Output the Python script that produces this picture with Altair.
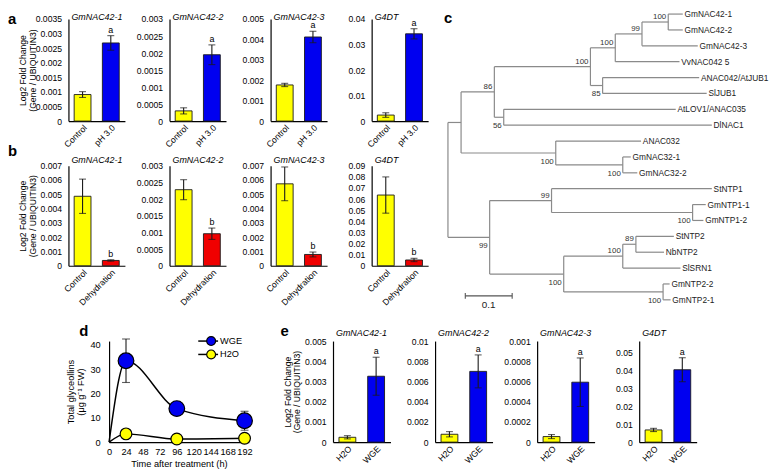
import altair as alt
import numpy as np
import pandas as pd

FONT = "Liberation Sans"
YELLOW = "#ffff00"
BLUE = "#0000f0"
RED = "#f00000"
INK = "#1a1a1a"
TREE_GREY = "#8a8a8a"

# ---------------- panel a : pH 3.0 ----------------
a_genes = ["GmNAC42-1", "GmNAC42-2", "GmNAC42-3", "G4DT"]
a_groups = ["Control", "pH 3.0"]
a_means = [[0.00091, 0.00268], [0.00030, 0.00195], [0.00177, 0.00412], [0.00236, 0.0342]]
a_errs = [[0.00010, 0.00025], [0.00009, 0.00029], [0.00008, 0.00028], [0.0009, 0.0020]]
a_sig = ["", "a"]
a_ymax = [0.0035, 0.003, 0.005, 0.04]
a_step = [0.0005, 0.0005, 0.001, 0.01]

# ---------------- panel b : dehydration ----------------
b_genes = ["GmNAC42-1", "GmNAC42-2", "GmNAC42-3", "G4DT"]
b_groups = ["Control", "Dehydration"]
b_means = [[0.00486, 0.00037], [0.00228, 0.00096], [0.00573, 0.00079], [0.0636, 0.0052]]
b_errs = [[0.00120, 0.00005], [0.00030, 0.00017], [0.00118, 0.00017], [0.0163, 0.0015]]
b_sig = ["", "b"]
b_ymax = [0.007, 0.003, 0.007, 0.09]
b_step = [0.001, 0.0005, 0.001, 0.01]

# ---------------- panel e : WGE ----------------
e_genes = ["GmNAC42-1", "GmNAC42-2", "GmNAC42-3", "G4DT"]
e_groups = ["H2O", "WGE"]
e_means = [[0.00024, 0.00326], [0.00078, 0.0070], [0.000055, 0.000593], [0.0068, 0.0404]]
e_errs = [[0.00008, 0.00094], [0.00026, 0.00163], [0.00002, 0.00024], [0.0009, 0.0067]]
e_sig = ["", "a"]
e_ymax = [0.005, 0.01, 0.001, 0.0564]
e_step = [0.001, 0.002, 0.0002, 0.01]

# ---------------- panel d : glyceollins ----------------
time_h = [0, 24, 96, 192]
series_names = ["WGE", "H2O"]
series_colors = [BLUE, YELLOW]
wge_mean = [0.0, 33.5, 13.8, 8.8]
wge_err = [0.0, 8.95, 2.7, 3.9]
h2o_mean = [0.0, 3.4, 1.3, 1.6]
h2o_err = [0.0, 0.5, 0.35, 0.4]
time_ticks = [0, 24, 48, 72, 96, 120, 144, 168, 192]

# ---------------- panel c : phylogenetic tree ----------------
tree_ids = ["root", "n1", "n86", "n100a", "n100b", "n99a", "n100c",
            "GmNAC42-1", "GmNAC42-2", "GmNAC42-3", "VvNAC042 5",
            "n85", "ANAC042/AtJUB1", "SlJUB1",
            "n56", "AtLOV1/ANAC035", "DlNAC1",
            "n100d", "ANAC032", "n100e", "GmNAC32-1", "GmNAC32-2",
            "n99b", "n99c", "StNTP1", "n100f", "GmNTP1-1", "GmNTP1-2",
            "n100g", "n100h", "n89", "StNTP2", "NbNTP2", "SlSRN1",
            "n100i", "GmNTP2-2", "GmNTP2-1"]
tree_parent = ["", "root", "n1", "n86", "n100a", "n100b", "n99a",
               "n100c", "n100c", "n99a", "n100b",
               "n100a", "n85", "n85",
               "n86", "n56", "n56",
               "n1", "n100d", "n100d", "n100e", "n100e",
               "root", "n99b", "n99c", "n99c", "n100f", "n100f",
               "n99b", "n100g", "n100h", "n89", "n89", "n100h",
               "n100g", "n100i", "n100i"]
tree_dist = [0.0, 0.028, 0.099, 0.304, 0.357, 0.414, 0.470,
             0.501, 0.501, 0.533, 0.494,
             0.330, 0.536, 0.552,
             0.119, 0.486, 0.563,
             0.230, 0.412, 0.373, 0.390, 0.404,
             0.089, 0.221, 0.563, 0.522, 0.550, 0.545,
             0.247, 0.373, 0.401, 0.482, 0.461, 0.496,
             0.459, 0.473, 0.475]
tree_support = ["", "", "86", "100", "100", "99", "100",
                "", "", "", "",
                "85", "", "",
                "56", "", "",
                "100", "", "100", "", "",
                "99", "99", "", "100", "", "",
                "100", "100", "89", "", "", "",
                "100", "", ""]
scale_bar_start = 0.037
scale_bar_len = 0.1
scale_bar_row = 17.75
scale_bar_label = "0.1"


def letter(ch, x, y):
    return alt.Chart(pd.DataFrame({"t": [ch]})).mark_text(
        fontSize=15, fontWeight="bold", align="left", baseline="alphabetic", color="black", font=FONT
    ).encode(text="t:N", x=alt.value(x), y=alt.value(y))


def gene_title(name, x, y):
    return alt.Chart(pd.DataFrame({"t": [name]})).mark_text(
        fontSize=9, fontStyle="italic", align="left", baseline="alphabetic", color="black", font=FONT
    ).encode(text="t:N", x=alt.value(x), y=alt.value(y))


def bar_panel(gene, groups, means, errs, sig, colors, ymax, step, width, height,
              title_y, first, extras):
    df = pd.DataFrame({"group": groups, "mean": means, "err": errs, "sig": sig, "color": colors})
    df["lo"] = df["mean"] - df["err"]
    df["hi"] = df["mean"] + df["err"]
    n = int(np.floor(ymax / step + 1e-6))
    tick_vals = [round(k * step, 8) for k in range(n + 1)]
    axis_kw = dict(values=tick_vals, labelExpr="format(datum.value, '~g')", labelPadding=7)
    if first:
        axis_kw.update(titleX=-43, titleY=height / 2, titleBaseline="alphabetic",
                       titleAlign="center", titleLineHeight=9.5)
        ytitle = ["Log2 Fold Change", "(Gene / UBIQUITIN3)"]
    else:
        ytitle = None
    yaxis = alt.Axis(**axis_kw)
    yscale = alt.Scale(domain=[0, ymax], nice=False, zero=True)

    def Y(f):
        return alt.Y(f"{f}:Q", scale=yscale, axis=yaxis, title=ytitle)

    X = alt.X("group:N", sort=groups, title=None,
              scale=alt.Scale(paddingInner=0, paddingOuter=0),
              axis=alt.Axis(labelAngle=315, labelPadding=2))
    base = alt.Chart(df)
    layers = [
        base.mark_bar(size=17, stroke=INK, strokeWidth=0.9).encode(
            x=X, y=Y("mean"), fill=alt.Fill("color:N", scale=None)),
        base.mark_rule(color=INK, strokeWidth=1.1).encode(x=X, y=Y("lo"), y2="hi:Q"),
        base.mark_tick(color=INK, size=7, thickness=1.1, orient="horizontal").encode(x=X, y=Y("lo")),
        base.mark_tick(color=INK, size=7, thickness=1.1, orient="horizontal").encode(x=X, y=Y("hi")),
        base.mark_text(fontSize=9, baseline="alphabetic", dy=-3, color="black").encode(
            x=X, y=Y("hi"), text="sig:N"),
        gene_title(gene, 3, title_y),
    ] + list(extras)
    return alt.layer(*layers).properties(width=width, height=height)


# ---------- rows a and b ----------
a_panels = []
for i, g in enumerate(a_genes):
    extras = [letter("a", -61, 5)] if i == 0 else []
    a_panels.append(bar_panel(g, a_groups, a_means[i], a_errs[i], a_sig, [YELLOW, BLUE],
                              a_ymax[i], a_step[i], 57, 103, 1, i == 0, extras))
a_row = alt.hconcat(*a_panels, spacing=45, bounds="flush")

b_panels = []
for i, g in enumerate(b_genes):
    extras = [letter("b", -61, -10)] if i == 0 else []
    b_panels.append(bar_panel(g, b_groups, b_means[i], b_errs[i], b_sig, [YELLOW, RED],
                              b_ymax[i], b_step[i], 57, 101, -3, i == 0, extras))
b_row = alt.hconcat(*b_panels, spacing=45, bounds="flush")

ab = alt.vconcat(a_row, b_row, spacing=148, bounds="flush")

# ---------- tree ----------
children = {n: [] for n in tree_ids}
for n, p in zip(tree_ids, tree_parent):
    if p:
        children[p].append(n)
dist = dict(zip(tree_ids, tree_dist))
parent = dict(zip(tree_ids, tree_parent))
ypos = {}
leaf_i = 0
for n in tree_ids:
    if not children[n]:
        ypos[n] = leaf_i
        leaf_i += 1
for n in reversed(tree_ids):
    if children[n]:
        ys = [ypos[c] for c in children[n]]
        ypos[n] = (min(ys) + max(ys)) / 2

seg_rows = []
for n in tree_ids:
    if parent[n]:
        seg_rows.append({"x": dist[parent[n]], "x2": dist[n], "y": ypos[n], "y2": ypos[n]})
    if children[n]:
        ys = [ypos[c] for c in children[n]]
        seg_rows.append({"x": dist[n], "x2": dist[n], "y": min(ys), "y2": max(ys)})
seg_df = pd.DataFrame(seg_rows)

leaf_df = pd.DataFrame([{"x": dist[n], "y": ypos[n], "label": n} for n in tree_ids if not children[n]])
sup_rows = []
for n, s in zip(tree_ids, tree_support):
    if s:
        pos = "above" if children[parent[n]][0] == n else "below"
        sup_rows.append({"x": dist[n], "y": ypos[n], "label": s, "pos": pos})
sup_df = pd.DataFrame(sup_rows)

bar_df = pd.DataFrame({"x": [scale_bar_start], "x2": [scale_bar_start + scale_bar_len],
                       "y": [scale_bar_row], "y2": [scale_bar_row],
                       "label": [scale_bar_label], "xm": [scale_bar_start + scale_bar_len / 2]})
bar_end_df = pd.DataFrame({"x": [scale_bar_start, scale_bar_start + scale_bar_len],
                           "y": [scale_bar_row - 0.18] * 2, "y2": [scale_bar_row + 0.18] * 2})

tx = alt.X("x:Q", scale=alt.Scale(domain=[0, 0.6], nice=False, zero=False), axis=None)
ty = alt.Y("y:Q", scale=alt.Scale(domain=[0.312, 18.5], reverse=True, nice=False, zero=False), axis=None)

tree = alt.layer(
    alt.Chart(seg_df).mark_rule(color=TREE_GREY, strokeWidth=1.2).encode(x=tx, x2="x2:Q", y=ty, y2="y2:Q"),
    alt.Chart(leaf_df).mark_text(align="left", baseline="middle", dx=1.8, fontSize=8.4, color="#222").encode(
        x=tx, y=ty, text="label:N"),
    alt.Chart(sup_df).transform_filter("datum.pos == 'above'").mark_text(
        align="right", baseline="alphabetic", dx=-2, dy=-3, fontSize=8, color="#333").encode(
        x=tx, y=ty, text="label:N"),
    alt.Chart(sup_df).transform_filter("datum.pos == 'below'").mark_text(
        align="right", baseline="alphabetic", dx=-2, dy=11, fontSize=8, color="#333").encode(
        x=tx, y=ty, text="label:N"),
    alt.Chart(bar_df).mark_rule(color="#555", strokeWidth=1.1).encode(x=tx, x2="x2:Q", y=ty),
    alt.Chart(bar_end_df).mark_rule(color="#555", strokeWidth=1.1).encode(x=tx, y=ty, y2="y2:Q"),
    alt.Chart(bar_df).mark_text(baseline="alphabetic", dy=12, fontSize=10, color="#222").encode(
        x=alt.X("xm:Q"), y=ty, text="label:N"),
    letter("c", -4, 4),
).properties(width=283.8, height=291.4)

top = alt.hconcat(ab, tree, spacing=383, bounds="flush")

# ---------- panel d ----------
d_rows = []
for s, m, e in [("WGE", wge_mean, wge_err), ("H2O", h2o_mean, h2o_err)]:
    for t, mv, ev in zip(time_h, m, e):
        d_rows.append({"series": s, "time": t, "mean": mv, "lo": mv - ev, "hi": mv + ev})
d_df = pd.DataFrame(d_rows)
d_pts = d_df[d_df["time"] > 0]

DX = alt.X("time:Q", scale=alt.Scale(domain=[0, 198], nice=False),
           axis=alt.Axis(values=time_ticks, labelFontSize=9.3, titleFontSize=9.3, labelPadding=5,
                         titlePadding=3, labelFlush=False, labelOverlap=False),
           title="Time after treatment (h)")
d_axis = alt.Axis(values=[0, 10, 20, 30, 40], labelFontSize=9.3, titleFontSize=9.3, labelPadding=9,
                  titleX=-36, titleY=51, titleBaseline="alphabetic", titleAlign="center",
                  titleLineHeight=10.5)
d_title = ["Total glyceollins", "(\u03bcg g\u207b\u00b9 FW)"]
d_scale = alt.Scale(domain=[0, 41.6], nice=False)


def DY(f):
    return alt.Y(f"{f}:Q", scale=d_scale, axis=d_axis, title=d_title)


color_scale = alt.Scale(domain=series_names, range=series_colors)

legend_layers = []
for i, (s, c) in enumerate(zip(series_names, series_colors)):
    ly = 0 + 13.5 * i
    ldf = pd.DataFrame({"series": [s]})
    legend_layers += [
        alt.Chart(ldf).mark_rule(color="black", strokeWidth=1.5).encode(
            x=alt.value(90), x2=alt.value(110), y=alt.value(ly)),
        alt.Chart(ldf).mark_point(filled=True, opacity=1, stroke="black", strokeWidth=1.2,
                                  size=80, shape="circle").encode(
            x=alt.value(103), y=alt.value(ly),
            fill=alt.Fill("series:N", scale=color_scale, legend=None)),
        alt.Chart(ldf).mark_text(align="left", baseline="middle", fontSize=9.3, color="black").encode(
            x=alt.value(112), y=alt.value(ly), text="series:N"),
    ]

d_chart = alt.layer(
    alt.Chart(d_df).mark_line(interpolate="monotone", color="black", strokeWidth=1.5).encode(
        x=DX, y=DY("mean"), detail="series:N"),
    alt.Chart(d_pts).mark_rule(color=INK, strokeWidth=1.1).encode(x=DX, y=DY("lo"), y2="hi:Q"),
    alt.Chart(d_pts).mark_tick(color=INK, size=8, thickness=1.1, orient="horizontal").encode(x=DX, y=DY("lo")),
    alt.Chart(d_pts).mark_tick(color=INK, size=8, thickness=1.1, orient="horizontal").encode(x=DX, y=DY("hi")),
    alt.Chart(d_pts).mark_point(filled=True, opacity=1, stroke="black", strokeWidth=1.2, shape="circle").encode(
        x=DX, y=DY("mean"),
        fill=alt.Fill("series:N", scale=color_scale, legend=None),
        size=alt.Size("series:N", scale=alt.Scale(domain=series_names, range=[250, 140]), legend=None)),
    *legend_layers,
    letter("d", -30, -5),
).properties(width=141, height=102)

# ---------- row e ----------
e_panels = []
for i, g in enumerate(e_genes):
    extras = [letter("e", -53, -5)] if i == 0 else []
    e_panels.append(bar_panel(g, e_groups, e_means[i], e_errs[i], e_sig, [YELLOW, BLUE],
                              e_ymax[i], e_step[i], 58, 102, -5, i == 0, extras))
e_row = alt.hconcat(*e_panels, spacing=45, bounds="flush")

# invisible 1-px placeholder so that panel d starts 41 px right of panel a
placeholder = alt.Chart(pd.DataFrame({"s": [0]})).mark_rule(opacity=0).encode(
    x=alt.value(0), y=alt.value(0)).properties(width=1, height=1)

de = alt.hconcat(d_chart, e_row, spacing=85, bounds="flush")
bottom = alt.hconcat(placeholder, de, spacing=40, bounds="flush")

chart = alt.vconcat(top, bottom, spacing=325, bounds="flush").properties(padding=0).configure(
    font=FONT
).configure_axis(
    labelFont=FONT, titleFont=FONT, labelColor="black", titleColor="black",
    domainColor="black", domainWidth=1.2, grid=False, ticks=False,
    labelFontSize=8.7, titleFontSize=8.7, titleFontWeight="normal"
).configure_view(strokeWidth=0).configure_text(font=FONT).configure_legend(
    labelFont=FONT, labelColor="black")

chart.save("out.html", embed_options={"renderer": "svg", "actions": False})
